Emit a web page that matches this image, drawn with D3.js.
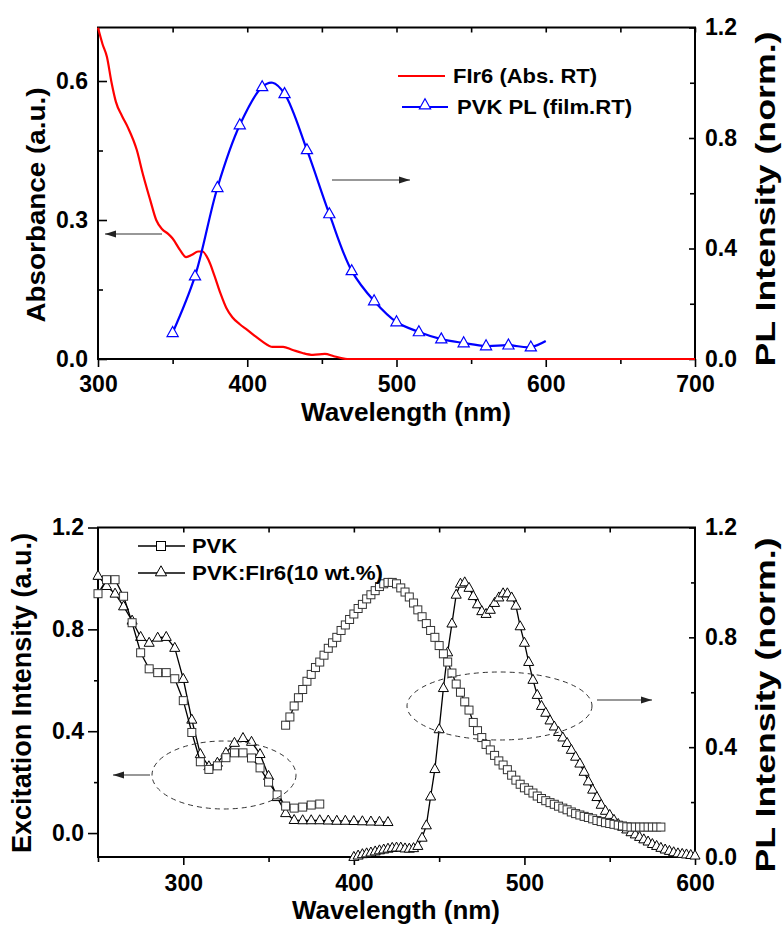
<!DOCTYPE html>
<html><head><meta charset="utf-8">
<script src="https://cdn.jsdelivr.net/npm/d3@7"></script>
<style>
body{margin:0;background:#fff;}
svg{display:block;}
text{font-family:"Liberation Sans",Arial,sans-serif;font-weight:bold;fill:#000;}
</style></head><body>
<svg id="c" width="782" height="927"></svg>
<script>
// ---------- Top panel data ----------
const absX=[300,303,306,309,312,316,320,326,330,335,339,343,347,350,355,359,363,367,370,374,378,382,386,390,395,400,405,410,417,424,430,437,444,452,458,463,467,500,600,700];
const absY=[0.715,0.68,0.652,0.598,0.555,0.525,0.50,0.451,0.40,0.343,0.30,0.28,0.27,0.26,0.235,0.22,0.225,0.232,0.232,0.214,0.18,0.142,0.11,0.09,0.075,0.063,0.05,0.038,0.026,0.026,0.02,0.013,0.009,0.011,0.006,0.002,0,0,0,0];
const plX=[350,365,380,395,410,417,425,440,455,470,485,500,515,530,545,560,575,590,600];
const plY=[0.095,0.30,0.62,0.847,0.985,1.0,0.96,0.757,0.525,0.319,0.21,0.134,0.098,0.072,0.058,0.047,0.05,0.043,0.065];
const plMarkX=[350,365,380,395,410,425,440,455,470,485,500,515,530,545,560,575,590];
const topXTicks=[300,400,500,600,700], topXMinor=[350,450,550,650];
const topLTicks=[0.0,0.3,0.6], topLMinor=[0.15,0.45];
const topRTicks=[0.0,0.4,0.8,1.2], topRMinor=[0.2,0.6,1.0];
const topLegend=["FIr6 (Abs. RT)","PVK PL (film.RT)"];

// ---------- Bottom panel data ----------
const exPvkX=[250,255,260,265,270,275,280,285,290,295,300,305,310,315,320,325,330,335,340,345,350,355,360,365,370,375,380];
const exPvkY=[0.94,0.995,0.995,0.93,0.826,0.708,0.645,0.63,0.63,0.606,0.52,0.395,0.28,0.25,0.264,0.296,0.315,0.315,0.295,0.256,0.20,0.15,0.106,0.098,0.102,0.11,0.114];
const exBlendX=[250,255,260,265,270,275,280,285,290,295,300,305,310,315,320,325,330,335,340,345,350,355,360,365,370,375,380,385,390,395,400,405,410,415,420];
const exBlendY=[1.01,0.97,0.94,0.89,0.834,0.77,0.747,0.767,0.77,0.727,0.605,0.445,0.31,0.262,0.276,0.315,0.354,0.373,0.358,0.31,0.224,0.141,0.078,0.051,0.05,0.05,0.05,0.049,0.048,0.048,0.047,0.046,0.045,0.044,0.043];
const plPvkX=[360,362.5,365,367.5,370,372.5,375,377.5,380,382.5,385,387.5,390,392.5,395,397.5,400,402.5,405,407.5,410,412.5,415,417.5,420,422.5,425,427.5,430,432.5,435,437.5,440,442.5,445,447.5,450,452.5,455,457.5,460,462.5,465,467.5,470,472.5,475,477.5,480,482.5,485,487.5,490,492.5,495,497.5,500,502.5,505,507.5,510,512.5,515,517.5,520,522.5,525,527.5,530,532.5,535,537.5,540,542.5,545,547.5,550,552.5,555,557.5,560,562.5,565,567.5,570,572.5,575,577.5,580];
const plPvkY=[0.48,0.51,0.55,0.58,0.61,0.64,0.665,0.69,0.71,0.735,0.76,0.78,0.80,0.825,0.845,0.865,0.885,0.905,0.92,0.94,0.955,0.97,0.985,0.995,1.0,1.0,0.995,0.98,0.965,0.947,0.925,0.90,0.875,0.85,0.825,0.80,0.77,0.74,0.71,0.67,0.63,0.60,0.565,0.535,0.49,0.46,0.435,0.41,0.39,0.37,0.35,0.335,0.318,0.298,0.28,0.265,0.252,0.243,0.233,0.222,0.213,0.205,0.198,0.192,0.185,0.178,0.172,0.164,0.158,0.153,0.148,0.144,0.139,0.133,0.129,0.125,0.122,0.119,0.116,0.113,0.11,0.109,0.109,0.109,0.109,0.109,0.109,0.109,0.109];
const plBlendX=[400,402.5,405,407.5,410,412.5,415,417.5,420,422.5,425,427.5,430,432.5,435,437.5,440,442.5,445,447.5,450,452.5,455,457.5,460,462.5,465,467.5,470,472.5,475,477.5,480,482.5,485,487.5,490,492.5,495,497.5,500,502.5,505,507.5,510,512.5,515,517.5,520,522.5,525,527.5,530,532.5,535,537.5,540,542.5,545,547.5,550,552.5,555,557.5,560,562.5,565,567.5,570,572.5,575,577.5,580,582.5,585,587.5,590,592.5,595,597.5,600];
const plBlendY=[0.0,0.005,0.01,0.013,0.016,0.02,0.024,0.027,0.03,0.033,0.034,0.034,0.031,0.03,0.032,0.04,0.07,0.115,0.22,0.32,0.465,0.615,0.745,0.85,0.955,0.995,1.0,0.98,0.95,0.92,0.895,0.885,0.90,0.925,0.945,0.96,0.96,0.945,0.915,0.84,0.78,0.71,0.645,0.59,0.55,0.525,0.497,0.475,0.455,0.435,0.415,0.39,0.365,0.34,0.31,0.275,0.245,0.218,0.19,0.168,0.153,0.135,0.12,0.11,0.10,0.09,0.082,0.073,0.064,0.056,0.047,0.04,0.033,0.027,0.022,0.017,0.013,0.011,0.009,0.007,0.005];
const botXTicks=[300,400,500,600], botXMinor=[250,350,450,550];
const botTopTicks=[300,350,400,450,500,550];
const botLTicks=[0.0,0.4,0.8,1.2], botLMinor=[0.2,0.6,1.0];
const botRTicks=[0.0,0.4,0.8,1.2], botRMinor=[0.2,0.6,1.0];
const botLegend=["PVK","PVK:FIr6(10 wt.%)"];

const svg=d3.select("#c");
const TICKFONT=23;

function styleAxis(g){
  g.select(".domain").remove();
  g.selectAll(".tick line").attr("stroke","#000").attr("stroke-width",1.6);
  g.selectAll(".tick text").style("font-size",TICKFONT+"px").style("font-weight","bold")
   .style("font-family",'"Liberation Sans",Arial,sans-serif');
}
const fmt1=d3.format(".1f");
const tri=(s)=>`M0,${-s*0.62}L${s*0.56},${s*0.38}L${-s*0.56},${s*0.38}Z`;

function arrow(g,x1,y1,x2,y2){
  g.append("line").attr("x1",x1).attr("y1",y1).attr("x2",x2).attr("y2",y2)
   .attr("stroke","#333").attr("stroke-width",1.2);
  const dir=Math.sign(x2-x1);
  g.append("path").attr("d",`M${x2},${y2}L${x2-dir*11},${y2-3.5}L${x2-dir*11},${y2+3.5}Z`).attr("fill","#222");
}

// ================= TOP PANEL =================
{
  const L=98,R=695,T=27.5,B=359;
  const x=d3.scaleLinear([300,700],[L,R]);
  const yL=d3.scaleLinear([0,0.7155],[B,T]);
  const yR=d3.scaleLinear([0,1.2],[B,T]);
  const g=svg.append("g");

  g.append("g").attr("transform",`translate(0,${B})`)
    .call(d3.axisBottom(x).tickValues(topXTicks).tickSize(8).tickPadding(9).tickFormat(d3.format("d"))).call(styleAxis);
  g.append("g").attr("transform",`translate(0,${B})`)
    .call(d3.axisBottom(x).tickValues(topXMinor).tickSize(5).tickFormat("")).call(styleAxis);
  g.append("g").attr("transform",`translate(0,${T})`)
    .call(d3.axisBottom(x).tickValues(topXTicks.concat(topXMinor)).tickSize(5).tickFormat("")).call(styleAxis);
  g.append("g").attr("transform",`translate(${L},0)`)
    .call(d3.axisLeft(yL).tickValues(topLTicks).tickSizeInner(-9).tickSizeOuter(0).tickPadding(10).tickFormat(fmt1)).call(styleAxis);
  g.append("g").attr("transform",`translate(${L},0)`)
    .call(d3.axisLeft(yL).tickValues(topLMinor).tickSizeInner(-5).tickSizeOuter(0).tickFormat("")).call(styleAxis);
  g.append("g").attr("transform",`translate(${R},0)`)
    .call(d3.axisRight(yR).tickValues(topRTicks).tickSizeInner(-6).tickSizeOuter(0).tickPadding(10).tickFormat(fmt1)).call(styleAxis);
  g.append("g").attr("transform",`translate(${R},0)`)
    .call(d3.axisRight(yR).tickValues(topRMinor).tickSizeInner(-5).tickSizeOuter(0).tickFormat("")).call(styleAxis);

  g.append("rect").attr("x",L).attr("y",T).attr("width",R-L).attr("height",B-T)
   .attr("fill","none").attr("stroke","#000").attr("stroke-width",2);

  g.append("text").attr("transform",`translate(45,205) rotate(-90)`).attr("text-anchor","middle")
   .style("font-size","26px").attr("textLength",235).attr("lengthAdjust","spacingAndGlyphs").text("Absorbance (a.u.)");
  g.append("text").attr("transform",`translate(775,199) rotate(-90)`).attr("text-anchor","middle")
   .style("font-size","28px").attr("textLength",335).attr("lengthAdjust","spacingAndGlyphs").text("PL Intensity (norm.)");
  g.append("text").attr("x",406).attr("y",421).attr("text-anchor","middle")
   .style("font-size","25px").attr("textLength",210).attr("lengthAdjust","spacingAndGlyphs").text("Wavelength (nm)");

  const absData=absX.map((v,i)=>[v,absY[i]]);
  g.append("path").datum(absData).attr("fill","none").attr("stroke","#ff0000").attr("stroke-width",2.2)
   .attr("d",d3.line().x(d=>x(d[0])).y(d=>yL(d[1])).curve(d3.curveMonotoneX));
  const plData=plX.map((v,i)=>[v,plY[i]]);
  g.append("path").datum(plData).attr("fill","none").attr("stroke","#0000ff").attr("stroke-width",2.2)
   .attr("d",d3.line().x(d=>x(d[0])).y(d=>yR(d[1])).curve(d3.curveCatmullRom.alpha(0.5)));
  const marks=plData.filter(d=>plMarkX.includes(d[0]));
  g.selectAll(".pm").data(marks).join("path").attr("class","pm")
   .attr("transform",d=>`translate(${x(d[0])},${yR(d[1])})`).attr("d",tri(10))
   .attr("fill","#fff").attr("stroke","#0000ff").attr("stroke-width",1.2);

  g.append("line").attr("x1",398).attr("x2",445).attr("y1",76).attr("y2",76).attr("stroke","#ff0000").attr("stroke-width",2.2);
  g.append("text").attr("x",453).attr("y",83).style("font-size","21px").attr("textLength",144).attr("lengthAdjust","spacingAndGlyphs").text(topLegend[0]);
  g.append("line").attr("x1",402).attr("x2",448).attr("y1",107).attr("y2",107).attr("stroke","#0000ff").attr("stroke-width",2.2);
  g.append("path").attr("transform","translate(425,105)").attr("d",tri(10)).attr("fill","#fff").attr("stroke","#0000ff").attr("stroke-width",1.2);
  g.append("text").attr("x",457).attr("y",114).style("font-size","21px").attr("textLength",175).attr("lengthAdjust","spacingAndGlyphs").text(topLegend[1]);

  arrow(g,162,234,105,234);
  arrow(g,332,180,410,180);
}

// ================= BOTTOM PANEL =================
{
  const L=98,R=695,T=527.5,B=857;
  const x=d3.scaleLinear([250,600],[L,R]);
  const yL=d3.scaleLinear([-0.094,1.2],[B,T]);
  const yR=d3.scaleLinear([0,1.2],[B,T]);
  const g=svg.append("g");

  g.append("g").attr("transform",`translate(0,${B})`)
    .call(d3.axisBottom(x).tickValues(botXTicks).tickSize(8).tickPadding(10).tickFormat(d3.format("d"))).call(styleAxis);
  g.append("g").attr("transform",`translate(0,${B})`)
    .call(d3.axisBottom(x).tickValues(botXMinor).tickSize(5).tickFormat("")).call(styleAxis);
  g.append("g").attr("transform",`translate(0,${T})`)
    .call(d3.axisBottom(x).tickValues(botTopTicks).tickSize(5).tickFormat("")).call(styleAxis);
  g.append("g").attr("transform",`translate(${L},0)`)
    .call(d3.axisLeft(yL).tickValues(botLTicks).tickSize(10).tickPadding(4).tickFormat(fmt1)).call(styleAxis);
  g.append("g").attr("transform",`translate(${L},0)`)
    .call(d3.axisLeft(yL).tickValues(botLMinor).tickSize(4).tickFormat("")).call(styleAxis);
  g.append("g").attr("transform",`translate(${R},0)`)
    .call(d3.axisRight(yR).tickValues(botRTicks).tickSizeInner(-6).tickSizeOuter(0).tickPadding(10).tickFormat(fmt1)).call(styleAxis);
  g.append("g").attr("transform",`translate(${R},0)`)
    .call(d3.axisRight(yR).tickValues(botRMinor).tickSizeInner(-4).tickSizeOuter(0).tickFormat("")).call(styleAxis);

  g.append("rect").attr("x",L).attr("y",T).attr("width",R-L).attr("height",B-T)
   .attr("fill","none").attr("stroke","#000").attr("stroke-width",2);

  g.append("text").attr("transform",`translate(31,693) rotate(-90)`).attr("text-anchor","middle")
   .style("font-size","27px").attr("textLength",320).attr("lengthAdjust","spacingAndGlyphs").text("Excitation Intensity (a.u.)");
  g.append("text").attr("transform",`translate(775,705) rotate(-90)`).attr("text-anchor","middle")
   .style("font-size","28px").attr("textLength",335).attr("lengthAdjust","spacingAndGlyphs").text("PL Intensity (norm.)");
  g.append("text").attr("x",396).attr("y",919).attr("text-anchor","middle")
   .style("font-size","25px").attr("textLength",208).attr("lengthAdjust","spacingAndGlyphs").text("Wavelength (nm)");

  const lineL=d3.line().x(d=>x(d[0])).y(d=>yL(d[1]));
  const lineR=d3.line().x(d=>x(d[0])).y(d=>yR(d[1]));
  const sq=(sel,s)=>sel.attr("x",-s/2).attr("y",-s/2).attr("width",s).attr("height",s);

  const pb=plBlendX.map((v,i)=>[v,plBlendY[i]]);
  g.append("path").datum(pb).attr("fill","none").attr("stroke","#000").attr("stroke-width",1.3).attr("d",lineR);
  g.selectAll(".pbt").data(pb).join("path").attr("class","pbt")
   .attr("transform",d=>`translate(${x(d[0])},${yR(d[1])})`).attr("d",tri(9))
   .attr("fill","#fff").attr("stroke","#000").attr("stroke-width",1);
  const pp=plPvkX.map((v,i)=>[v,plPvkY[i]]);
  g.append("path").datum(pp).attr("fill","none").attr("stroke","#000").attr("stroke-width",1.3).attr("d",lineR);
  g.selectAll(".pps").data(pp).join("rect").attr("class","pps")
   .attr("transform",d=>`translate(${x(d[0])},${yR(d[1])})`).call(sq,8)
   .attr("fill","#fff").attr("stroke","#333").attr("stroke-width",1);
  const eb=exBlendX.map((v,i)=>[v,exBlendY[i]]);
  g.append("path").datum(eb).attr("fill","none").attr("stroke","#000").attr("stroke-width",1.3).attr("d",lineL);
  g.selectAll(".ebt").data(eb).join("path").attr("class","ebt")
   .attr("transform",d=>`translate(${x(d[0])},${yL(d[1])})`).attr("d",tri(9))
   .attr("fill","#fff").attr("stroke","#000").attr("stroke-width",1);
  const ep=exPvkX.map((v,i)=>[v,exPvkY[i]]);
  g.append("path").datum(ep).attr("fill","none").attr("stroke","#000").attr("stroke-width",1.3).attr("d",lineL);
  g.selectAll(".eps").data(ep).join("rect").attr("class","eps")
   .attr("transform",d=>`translate(${x(d[0])},${yL(d[1])})`).call(sq,8)
   .attr("fill","#fff").attr("stroke","#333").attr("stroke-width",1);

  g.append("line").attr("x1",138).attr("x2",185).attr("y1",546).attr("y2",546).attr("stroke","#000").attr("stroke-width",1.5);
  g.append("rect").attr("transform","translate(161,546)").call(sq,9).attr("fill","#fff").attr("stroke","#000").attr("stroke-width",1);
  g.append("text").attr("x",192).attr("y",553).style("font-size","20px").attr("textLength",45).attr("lengthAdjust","spacingAndGlyphs").text(botLegend[0]);
  g.append("line").attr("x1",138).attr("x2",185).attr("y1",573).attr("y2",573).attr("stroke","#000").attr("stroke-width",1.5);
  g.append("path").attr("transform","translate(161,572)").attr("d",tri(10)).attr("fill","#fff").attr("stroke","#000").attr("stroke-width",1);
  g.append("text").attr("x",192).attr("y",580).style("font-size","20px").attr("textLength",191).attr("lengthAdjust","spacingAndGlyphs").text(botLegend[1]);

  g.append("ellipse").attr("cx",224).attr("cy",775).attr("rx",72).attr("ry",34)
   .attr("fill","none").attr("stroke","#333").attr("stroke-width",1).attr("stroke-dasharray","5,4");
  g.append("ellipse").attr("cx",499.5).attr("cy",706).attr("rx",92.5).attr("ry",34)
   .attr("fill","none").attr("stroke","#333").attr("stroke-width",1).attr("stroke-dasharray","5,4");
  arrow(g,150,775,113,775);
  arrow(g,597,700,652,700);
}
</script>
</body></html>
